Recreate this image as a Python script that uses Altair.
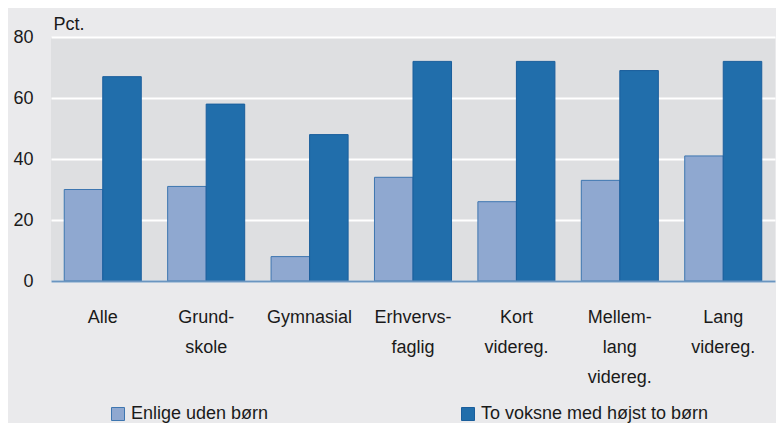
import altair as alt
import pandas as pd

categories = ["Alle", "Grund-|skole", "Gymnasial", "Erhvervs-|faglig", "Kort|videreg.", "Mellem-|lang|videreg.", "Lang|videreg."]
series_names = ["Enlige uden børn", "To voksne med højst to børn"]
enlige = [30, 31, 8, 34, 26, 33, 41]
to_voksne = [67, 58, 48, 72, 72, 69, 72]

rows = []
for c, a, b in zip(categories, enlige, to_voksne):
    rows.append({"kategori": c, "serie": series_names[0], "pct": a})
    rows.append({"kategori": c, "serie": series_names[1], "pct": b})
df = pd.DataFrame(rows)

FONT = "Liberation Sans"
fills = ["#8FA8D0", "#216EAB"]
strokes = ["#3E76B0", "#1A5E9C"]

bars = alt.Chart(df).mark_bar(strokeWidth=1).encode(
    x=alt.X("kategori:N", sort=categories, title=None,
            scale=alt.Scale(paddingInner=0.255, paddingOuter=0.128),
            axis=alt.Axis(labelExpr="split(datum.label, '|')", labelAngle=0,
                          labelFontSize=18, labelFont=FONT, labelColor="#1a1a1a",
                          labelLineHeight=30, labelPadding=27, ticks=False, tickSize=0,
                          domainColor="#6A95C0", domainWidth=2, zindex=1)),
    xOffset=alt.XOffset("serie:N", sort=series_names),
    y=alt.Y("pct:Q", title="Pct.", scale=alt.Scale(domain=[0, 80]),
            axis=alt.Axis(values=[0, 20, 40, 60, 80], labelFontSize=18, labelFont=FONT,
                          labelColor="#1a1a1a", labelPadding=18, ticks=False, domain=False,
                          grid=True, gridColor="#FFFFFF", gridWidth=2,
                          titleAngle=0, titleAlign="left", titleBaseline="alphabetic",
                          titleX=2, titleY=-8, titleFont=FONT, titleFontSize=18,
                          titleFontWeight="normal", titleColor="#1a1a1a")),
    color=alt.Color("serie:N", sort=series_names,
                    scale=alt.Scale(domain=series_names, range=fills),
                    legend=alt.Legend(title=None, orient="none", legendX=58, legendY=368,
                                      direction="horizontal", symbolType="square",
                                      symbolSize=169, symbolStrokeColor="#3E76B0",
                                      symbolStrokeWidth=1, symbolOpacity=1,
                                      labelFont=FONT, labelFontSize=18, labelColor="#1a1a1a",
                                      labelOffset=4, columnPadding=190, padding=0,
                                      labelLimit=400)),
    stroke=alt.Stroke("serie:N", sort=series_names,
                      scale=alt.Scale(domain=series_names, range=strokes), legend=None),
).properties(
    width=724, height=244,
    background="#EAEAEC",
    padding={"left": 43, "top": 29, "right": 1, "bottom": 142},
    autosize=alt.AutoSizeParams(type="none"),
).configure_view(
    fill="#DEDFE1", stroke=None
)

chart = bars
chart.save("out.html", embed_options={"renderer": "svg", "actions": False})
